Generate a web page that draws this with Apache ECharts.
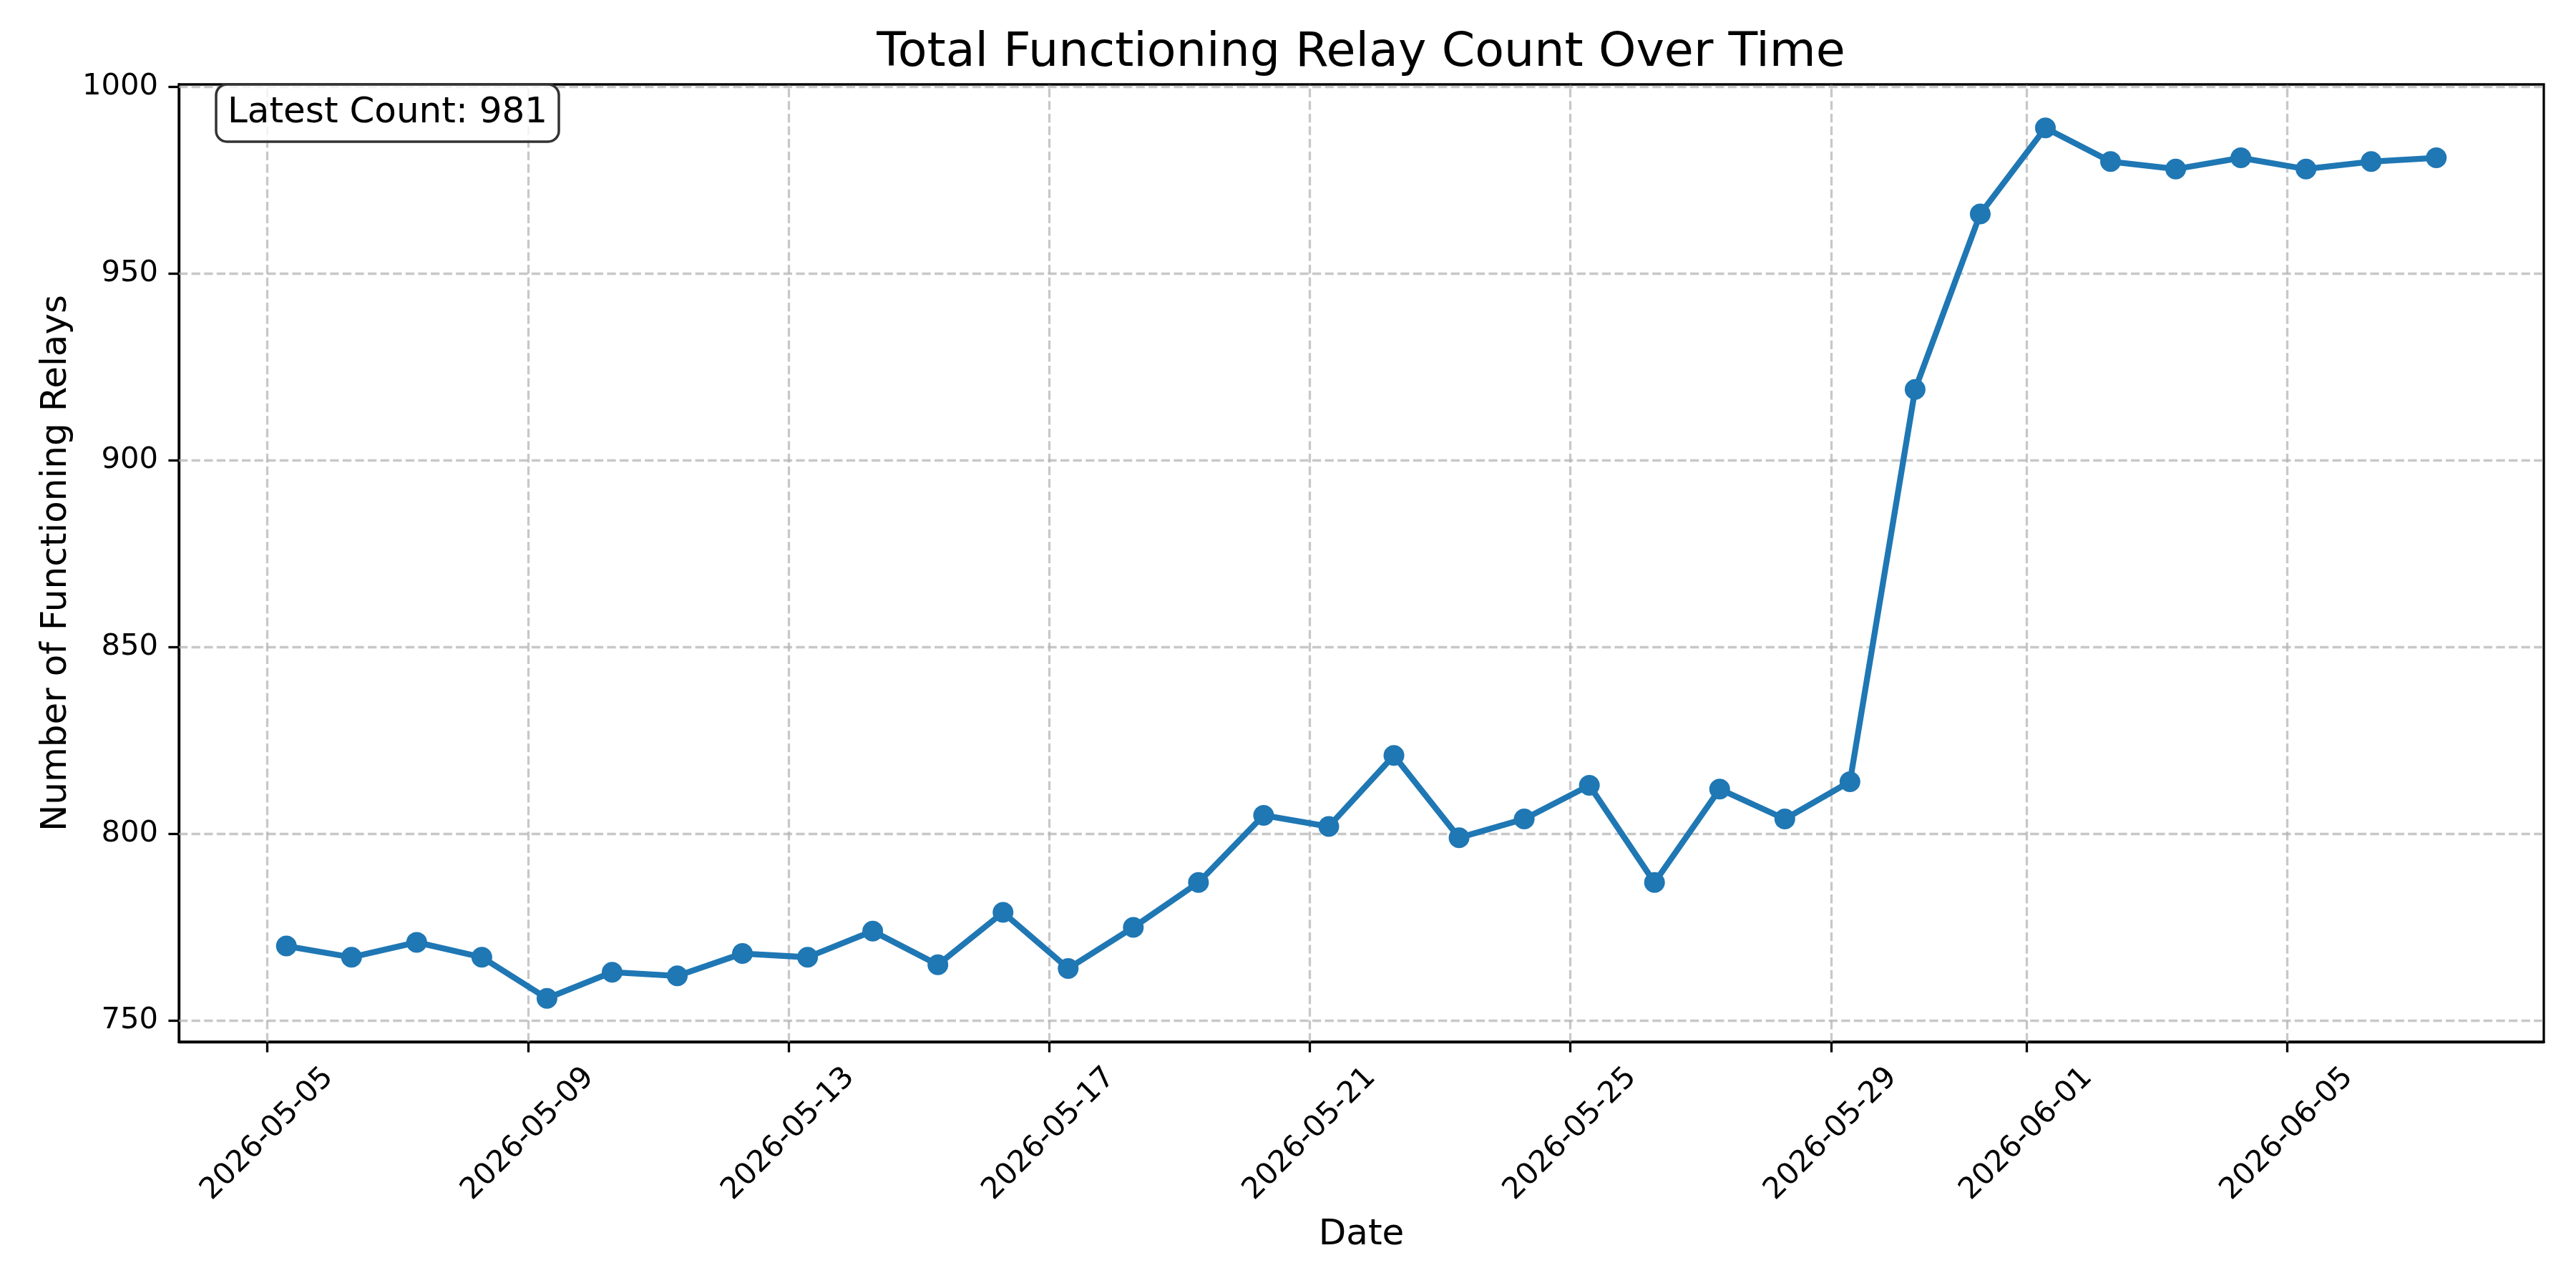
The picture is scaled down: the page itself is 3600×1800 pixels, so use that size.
<!DOCTYPE html>
<html>
<head>
<meta charset="utf-8">
<script src="https://cdn.jsdelivr.net/npm/echarts@6/dist/echarts.min.js"></script>
<style>
  html, body { margin: 0; padding: 0; background: #ffffff; }
  #chart { width: 3600px; height: 1800px; }
</style>
</head>
<body>
<div id="chart"></div>
<script>
// ---- Data ----
const dates = [
  '2026-05-05T07:00:00', '2026-05-06T07:00:00', '2026-05-07T07:00:00', '2026-05-08T07:00:00',
  '2026-05-09T07:00:00', '2026-05-10T07:00:00', '2026-05-11T07:00:00', '2026-05-12T07:00:00',
  '2026-05-13T07:00:00', '2026-05-14T07:00:00', '2026-05-15T07:00:00', '2026-05-16T07:00:00',
  '2026-05-17T07:00:00', '2026-05-18T07:00:00', '2026-05-19T07:00:00', '2026-05-20T07:00:00',
  '2026-05-21T07:00:00', '2026-05-22T07:00:00', '2026-05-23T07:00:00', '2026-05-24T07:00:00',
  '2026-05-25T07:00:00', '2026-05-26T07:00:00', '2026-05-27T07:00:00', '2026-05-28T07:00:00',
  '2026-05-29T07:00:00', '2026-05-30T07:00:00', '2026-05-31T07:00:00', '2026-06-01T07:00:00',
  '2026-06-02T07:00:00', '2026-06-03T07:00:00', '2026-06-04T07:00:00', '2026-06-05T07:00:00',
  '2026-06-06T07:00:00', '2026-06-07T07:00:00'
];
const relayCounts = [
  770, 767, 771, 767, 756, 763, 762, 768, 767, 774, 765, 779,
  764, 775, 787, 805, 802, 821, 799, 804, 813, 787, 812, 804,
  814, 919, 966, 989, 980, 978, 981, 978, 980, 981
];
const xTickLabels = [
  '2026-05-05', '2026-05-09', '2026-05-13', '2026-05-17', '2026-05-21',
  '2026-05-25', '2026-05-29', '2026-06-01', '2026-06-05'
];
const yTickValues = [750, 800, 850, 900, 950, 1000];

const titleText = 'Total Functioning Relay Count Over Time';
const xAxisTitle = 'Date';
const yAxisTitle = 'Number of Functioning Relays';
const latestLabel = 'Latest Count: ' + relayCounts[relayCounts.length - 1];

// ---- Helpers ----
function toMs(s) {
  const m = s.match(/^(\d{4})-(\d{2})-(\d{2})(?:T(\d{2}):(\d{2}):(\d{2}))?$/);
  return new Date(+m[1], +m[2] - 1, +m[3], +(m[4] || 0), +(m[5] || 0), +(m[6] || 0)).getTime();
}
const xTickValues = xTickLabels.map(toMs);
const tickLabelByValue = {};
xTickValues.forEach((v, i) => { tickLabelByValue[v] = xTickLabels[i]; });

const seriesData = dates.map((d, i) => [toMs(d), relayCounts[i]]);

const FONT = 'DejaVu Sans';
const gridStyle = { type: [12.3, 5.3], color: '#b0b0b0', opacity: 0.7, width: 3.3 };

const gridLines = []
  .concat(xTickValues.map(v => ({ xAxis: v })))
  .concat(yTickValues.map(v => ({ yAxis: v })));

const chart = echarts.init(document.getElementById('chart'), null, { renderer: 'canvas' });

chart.setOption({
  animation: false,
  backgroundColor: '#ffffff',
  title: [
    {
      text: titleText,
      left: 1902,
      textAlign: 'center',
      top: 41,
      padding: 0,
      textStyle: { fontFamily: FONT, fontSize: 66.7, fontWeight: 'normal', color: '#000', lineHeight: 66.7 }
    },
    {
      text: latestLabel,
      left: 302,
      top: 118,
      padding: [15, 16],
      backgroundColor: 'rgba(255,255,255,0.8)',
      borderColor: '#333333',
      borderWidth: 3.5,
      borderRadius: 15,
      textStyle: { fontFamily: FONT, fontSize: 50, fontWeight: 'normal', color: '#000', lineHeight: 50 },
      z: 10
    }
  ],
  grid: {
    left: 250, right: 45, top: 118, bottom: 344,
    show: true, borderColor: '#000', borderWidth: 3.3, backgroundColor: 'transparent'
  },
  xAxis: {
    type: 'value',
    scale: true,
    min: v => v.min - 0.05 * (v.max - v.min),
    max: v => v.max + 0.05 * (v.max - v.min),
    name: xAxisTitle,
    nameLocation: 'middle',
    nameGap: 245,
    nameTextStyle: { fontFamily: FONT, fontSize: 50, color: '#000', verticalAlign: 'top' },
    axisLine: { show: true, onZero: false, lineStyle: { color: '#000', width: 3.3 } },
    axisTick: { show: true, length: 14.6, lineStyle: { color: '#000', width: 3.3 }, customValues: xTickValues },
    axisLabel: {
      customValues: xTickValues,
      rotate: 45,
      align: 'center',
      verticalAlign: 'middle',
      margin: 129,
      fontFamily: FONT, fontSize: 41.7, color: '#000',
      formatter: v => tickLabelByValue[v] || ''
    },
    splitLine: { show: false }
  },
  yAxis: {
    type: 'value',
    scale: true,
    min: v => v.min - 0.05 * (v.max - v.min),
    max: v => v.max + 0.05 * (v.max - v.min),
    name: yAxisTitle,
    nameLocation: 'middle',
    nameGap: 141,
    nameRotate: 90,
    nameTextStyle: { fontFamily: FONT, fontSize: 50, color: '#000' },
    axisLine: { show: true, onZero: false, lineStyle: { color: '#000', width: 3.3 } },
    axisTick: { show: true, length: 14.6, lineStyle: { color: '#000', width: 3.3 }, customValues: yTickValues },
    axisLabel: {
      customValues: yTickValues,
      margin: 29,
      fontFamily: FONT, fontSize: 41.7, color: '#000',
      formatter: v => String(v)
    },
    splitLine: { show: false }
  },
  series: [
    {
      type: 'line',
      data: seriesData,
      z: 3,
      symbol: 'circle',
      symbolSize: 29,
      showAllSymbol: true,
      lineStyle: { color: '#1f77b4', width: 8.3 },
      itemStyle: { color: '#1f77b4' },
      markLine: {
        silent: true,
        z: 1,
        symbol: ['none', 'none'],
        label: { show: false },
        lineStyle: gridStyle,
        emphasis: { disabled: true },
        data: gridLines
      }
    }
  ]
});
</script>
</body>
</html>
